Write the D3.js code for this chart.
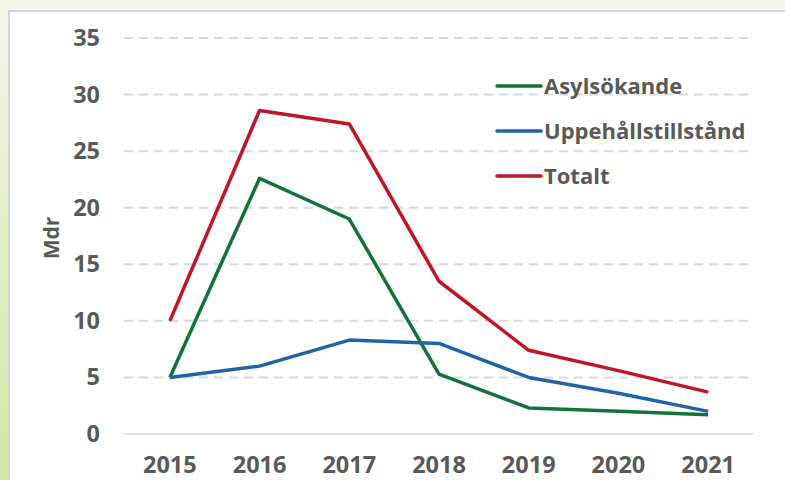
<!DOCTYPE html>
<html>
<head>
<meta charset="utf-8">
<script src="https://cdn.jsdelivr.net/npm/d3@7"></script>
<style>
  body { margin: 0; padding: 0; overflow: hidden; }
  svg { display: block; }
  text { font-family: "Open Sans", "Liberation Sans", sans-serif; font-weight: 700; fill: #595959; }
</style>
</head>
<body>
<div id="chart"></div>
<script>
'use strict';

// data (Mdr kr)
var years = ['2015', '2016', '2017', '2018', '2019', '2020', '2021'];
var asyl = [5.0, 22.6, 19.0, 5.3, 2.3, 2.0, 1.7];
var uppehall = [5.0, 6.0, 8.3, 8.0, 5.0, 3.6, 2.0];
var totalt = [10.0, 28.6, 27.4, 13.5, 7.4, 5.6, 3.7];
var yTicks = [0, 5, 10, 15, 20, 25, 30, 35];

var seriesNames = ['Asylsökande', 'Uppehållstillstånd', 'Totalt'];
var seriesColors = ['#12733a', '#1f63a6', '#c01427'];

var W = 785, H = 480;
var margins = {top: 38, bottom: 46, left: 125, right: 32};
var cw = W - margins.left - margins.right;
var ch = H - margins.top - margins.bottom;

var svg = d3.select('#chart').append('svg')
    .attr('width', W)
    .attr('height', H);

// page background with the greenish left edge
var defs = svg.append('defs');
var grad = defs.append('linearGradient')
    .attr('id', 'bg')
    .attr('x1', 0).attr('y1', 0).attr('x2', 0).attr('y2', 1);
grad.append('stop').attr('offset', '0%').attr('stop-color', '#f4f7e9');
grad.append('stop').attr('offset', '100%').attr('stop-color', '#d3e6a6');

svg.append('rect').attr('width', W).attr('height', H).style('fill', '#f5f7ea');
svg.append('rect').attr('width', 9).attr('height', H).style('fill', 'url(#bg)');

// white panel
svg.append('rect')
    .attr('x', 9).attr('y', 11)
    .attr('width', W).attr('height', H)
    .style('fill', '#ffffff')
    .style('stroke', '#d4d4d4')
    .style('stroke-width', 2);

var xScale = d3.scaleBand().domain(years).range([0, cw]);
var yScale = d3.scaleLinear().domain([0, 35]).range([ch, 0]);

var chart = svg.append('g')
    .attr('transform', 'translate(' + margins.left + ',' + margins.top + ')');

// grid lines
chart.append('g')
    .selectAll('line')
    .data(yTicks.filter(function(d){ return d > 0; }))
    .enter()
    .append('line')
    .attr('x1', -1)
    .attr('x2', cw)
    .attr('y1', function(d){ return yScale(d); })
    .attr('y2', function(d){ return yScale(d); })
    .style('stroke', '#d9d9d9')
    .style('stroke-width', 2)
    .style('stroke-dasharray', '9,6');

chart.append('line')
    .attr('x1', -1).attr('x2', cw)
    .attr('y1', ch).attr('y2', ch)
    .style('stroke', '#d9d9d9')
    .style('stroke-width', 1.5);

// axes (no domain, no ticks)
var yAxis = d3.axisLeft(yScale).tickValues(yTicks).tickSize(0).tickPadding(25);
var yAxisGroup = chart.append('g').attr('class', 'yAxis').call(yAxis);
yAxisGroup.select('.domain').remove();
yAxisGroup.selectAll('text')
    .style('font-size', '23.5px')
    .style('fill', '#595959')
    .style('font-family', null);

var xAxis = d3.axisBottom(xScale).tickSize(0).tickPadding(22);
var xAxisGroup = chart.append('g')
    .attr('class', 'xAxis')
    .attr('transform', 'translate(0,' + ch + ')')
    .call(xAxis);
xAxisGroup.select('.domain').remove();
xAxisGroup.selectAll('text')
    .style('font-size', '23.5px')
    .style('fill', '#595959')
    .style('font-family', null);

// y-axis label
svg.append('text')
    .attr('transform', 'translate(59,238) rotate(-90)')
    .style('text-anchor', 'middle')
    .style('font-size', '21px')
    .text('Mdr');

// lines
var line = d3.line()
    .x(function(d, i){ return xScale(years[i]) + xScale.bandwidth() / 2; })
    .y(function(d){ return yScale(d); });

var allSeries = [asyl, uppehall, totalt];

chart.selectAll('path.serie')
    .data(allSeries)
    .enter()
    .append('path')
    .attr('class', 'serie')
    .attr('d', line)
    .style('fill', 'none')
    .style('stroke', function(d, i){ return seriesColors[i]; })
    .style('stroke-width', 3.5)
    .style('stroke-linejoin', 'round');

// legend
var legend = svg.append('g').attr('transform', 'translate(497,86)');
var items = legend.selectAll('g')
    .data(seriesNames)
    .enter()
    .append('g')
    .attr('transform', function(d, i){ return 'translate(0,' + (i * 45) + ')'; });

items.append('line')
    .attr('x1', 0).attr('x2', 44)
    .attr('y1', 0).attr('y2', 0)
    .style('stroke', function(d, i){ return seriesColors[i]; })
    .style('stroke-width', 3.5)
    .style('stroke-linecap', 'round');

items.append('text')
    .attr('x', 47)
    .attr('y', 0)
    .attr('dy', '0.35em')
    .style('font-size', '22px')
    .text(function(d){ return d; });
</script>
</body>
</html>
